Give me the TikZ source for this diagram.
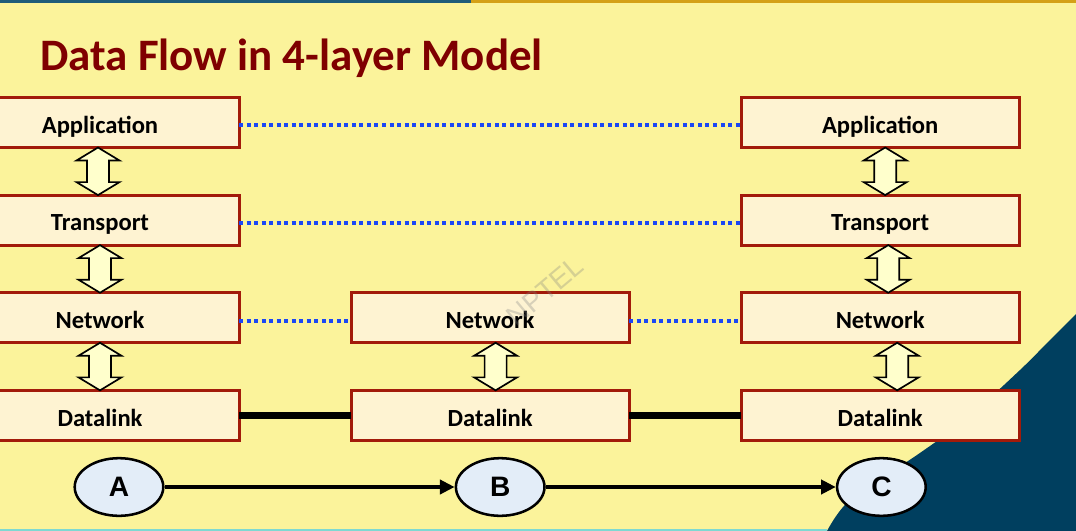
\documentclass[tikz,border=0pt]{standalone}
\usepackage{fontspec}
\setmainfont{Carlito}
\newfontfamily\arialfont{Liberation Sans}
\usetikzlibrary{positioning,shapes.geometric,arrows.meta,calc}
\usepackage{xcolor}
\definecolor{slide}{HTML}{FBF39B}
\definecolor{deep}{HTML}{003F5F}
\definecolor{topblue}{HTML}{1F5C7A}
\definecolor{topgold}{HTML}{D4A017}
\definecolor{footline}{HTML}{7ED9D2}
\definecolor{titlered}{HTML}{7F0000}
\definecolor{layerred}{HTML}{A21A0A}
\definecolor{layerfill}{HTML}{FEF3D2}
\definecolor{arrowfill}{HTML}{FFFFCC}
\definecolor{peerblue}{HTML}{1A47F5}
\definecolor{hostfill}{HTML}{E3EDF8}

\begin{document}
\begin{tikzpicture} [x=0.025cm, y=-0.025cm,
    layer/.style={draw=layerred, fill=layerfill,%
      line width=2.1pt, outer sep=0,%
      minimum width=6.95cm, minimum height=1.25cm,%
      text height=17.4pt, text depth=2pt,%
      font=\bfseries\fontsize{17.5}{20}\selectfont},
    updown/.style={draw=black, fill=arrowfill, line width=1.2pt},
    peer/.style={draw=peerblue, line width=2.85pt, dash pattern=on 2.85pt off 2.5pt},
    wire/.style={draw=black, line width=4.6pt},
    host/.style={ellipse, draw=black, fill=hostfill, line width=1.8pt,
      minimum width=63pt, minimum height=41pt,
      font=\arialfont\bfseries\fontsize{20}{24}\selectfont},
    hop/.style={draw=black, line width=2.8pt, -{Triangle[length=10.5pt,width=10pt]}}
    ]
    \useasboundingbox (0,0) rectangle (1076,531);
    % slide background
    \fill[slide] (0,0) rectangle (1076,531);
    \fill[deep] plot[smooth] coordinates {(827,531) (850,500) (917,455) (965,420) (1020,370) (1050,340) (1076,314)} -- (1076,531) -- cycle;
    \fill[topblue] (0,0) rectangle (471,3);
    \fill[topgold] (471,0) rectangle (1076,3);
    \fill[footline] (0,528.5) rectangle (827,531);

    \node[anchor=base west, inner sep=0, text=titlered,
      font=\bfseries\fontsize{32}{38}\selectfont] (title) at (40,71) {Data Flow in 4-layer Model};

    % the three stacks
    \node[layer] (l1) at (100,122.5) {Application};
    \foreach \i/\name [remember=\i as \lasti (initially 1)] in {2/Transport,3/Network,4/Datalink}
        \node[layer, below=1.19cm of l\lasti] (l\i) {\name};
    \node[layer, right=12.55cm of l1] (r1) {Application};
    \foreach \i/\name [remember=\i as \lasti (initially 1)] in {2/Transport,3/Network,4/Datalink}
        \node[layer, below=1.19cm of r\lasti] (r\i) {\name};
    \node[layer, right=2.8cm of l3] (m3) {Network};
    \node[layer, below=1.19cm of m3] (m4) {Datalink};

    % hollow double arrows between layers
    \foreach \up/\dx in {l1/-2,l2/0,l3/0,m3/5.5,r1/5,r2/8,r3/17}
        \draw[updown] ($(\up.south)+(\dx,0)$) -- ++(-21.5,13) -- ++(10.5,0) -- ++(0,21.6) -- ++(-10.5,0)
          -- ++(21.5,13) -- ++(21.5,-13) -- ++(-10.5,0) -- ++(0,-21.6) -- ++(10.5,0) -- cycle;

    \foreach \i in {1,2}
        \draw[peer] ([yshift=-2.1pt]l\i.east) -- ([yshift=-2.1pt]r\i.west);
    \draw[peer] ([yshift=-2.1pt]l3.east) -- ([yshift=-2.1pt]m3.west);
    \draw[peer] ([yshift=-2.1pt]m3.east) -- ([yshift=-2.1pt]r3.west);
    \draw[wire] (l4) -- (m4) (m4) -- (r4);

    % hosts
    \node[host] (A) at (119,487) {A};
    \node[host, right=7.25cm of A] (B) {B};
    \node[host, right=7.25cm of B] (C) {C};
    \draw[hop] (A) -- (B);
    \draw[hop] (B) -- (C);

    \node[rotate=40, text=gray, opacity=0.3,
      font=\arialfont\fontsize{20}{24}\selectfont] (mark) at (545,291) {NPTEL};
  \end{tikzpicture}
\end{document}
